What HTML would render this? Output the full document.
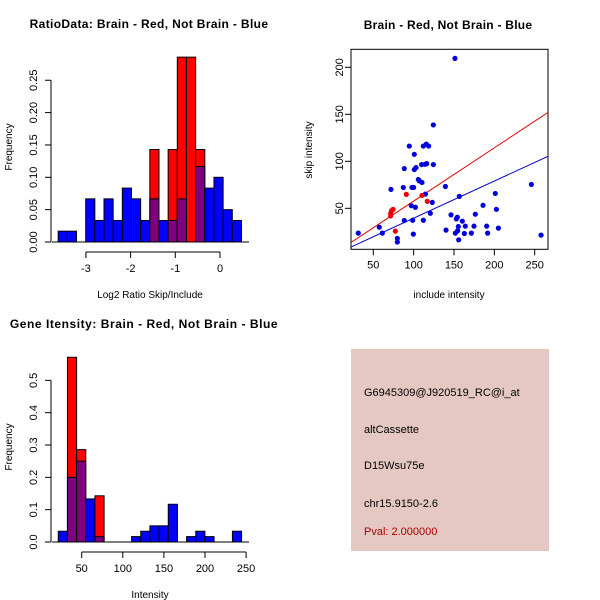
<!DOCTYPE html>
<html><head><meta charset="utf-8"><style>
body{margin:0;background:#fff}
svg{display:block;font-family:"Liberation Sans",sans-serif}
</style></head><body>
<svg id="c" width="600" height="600" viewBox="0 0 600 600"></svg>
<script>
// ---- data ----
const ratioBinStart = -3.62, ratioBinWidth = 0.205;
const ratioBlue = [0.0167,0.0167,0,0.0667,0.0333,0.0667,0.0333,0.0833,0.0667,0.0333,0.0667,0.0333,0.0333,0.0667,0,0.1167,0.0833,0.1,0.05,0.0333];
const ratioRed  = [0,0,0,0,0,0,0,0,0,0,0.1429,0,0.1429,0.2857,0.2857,0.1429,0,0,0,0];
const ratioXTicks = [-3,-2,-1,0];
const ratioYTicks = [0,0.05,0.10,0.15,0.20,0.25];
const ratioYLabels = ["0.00","0.05","0.10","0.15","0.20","0.25"];

const geneBinStart = 21.5, geneBinWidth = 11.15;
const geneBlue = [0.0333,0.2,0.25,0.1333,0.0167,0,0,0,0.0167,0.0333,0.05,0.05,0.1167,0,0.0167,0.0333,0.0167,0,0,0.0333];
const geneRed  = [0,0.5714,0.2857,0,0.1429,0,0,0,0,0,0,0,0,0,0,0,0,0,0,0];
const geneXTicks = [50,100,150,200,250];
const geneYTicks = [0,0.1,0.2,0.3,0.4,0.5];
const geneYLabels = ["0.0","0.1","0.2","0.3","0.4","0.5"];

const blueX = [31.4,57.4,61.2,71.9,79.8,79.8,87.2,88.4,88.4,94.6,97.1,97.9,100,99.6,98.8,100.8,100.8,102.9,102.1,105.8,107,110.3,109.9,112,112,114,115.7,116.1,118.6,114.5,120.7,123.1,124.4,124.4,139.3,140.1,146.3,151.2,152.9,154.1,155.4,154.5,151.7,156.6,155.8,160.3,162.8,164,171.5,174.8,176.4,186,190.5,191.7,201.2,202.5,205,245.9,257.9];
const blueY = [23.6,29.9,23.6,70.1,18,14.1,72.2,92.3,37,116.2,52.8,72.2,72.2,22.5,37.3,107.4,91.2,93.3,51.1,80.6,79.2,77.5,96.5,116.2,37.3,96.8,118.3,97.5,116.2,65.1,44.7,56.3,138.7,96.5,73.2,26.8,43,209.5,38.7,40.5,30.6,26.1,23.6,62.7,16.5,36.3,23.2,31,23.6,31,43.7,53.2,31,23.6,65.8,48.9,28.9,75.4,21.5];
const redX = [71.5,72.7,74.4,71.5,77.3,90.9,110.3,116.9];
const redY = [44.7,47.5,48.9,41.9,25.7,64.8,63.7,57.4];
const redFit = [1.0,0.5666];   // intercept, slope
const blueFit = [0.0,0.395];
const scatXTicks = [50,100,150,200,250];
const scatYTicks = [50,100,150,200];

const svg = document.getElementById('c');
const NS = 'http://www.w3.org/2000/svg';
function mk(tag, attrs, parent){const e=document.createElementNS(NS,tag);for(const k in attrs)e.setAttribute(k,attrs[k]);(parent||svg).appendChild(e);return e;}
function txt(s,x,y,opts,parent){const t=mk('text',Object.assign({x:x,y:y,'font-size':11,fill:'#000'},opts||{}),parent);t.textContent=s;return t;}

function hist(name, title, xlab, x0px, pxPerX, y0px, pxPerY, binStart, binW, blue, red, xT, yT, yL, axY, titleX, titleSpacing){
  const g = mk('g',{});
  
  
  const sx = v => x0px + v*pxPerX;
  const sy = v => y0px - v*pxPerY;
  for(let i=0;i<blue.length;i++){
    const l = sx(binStart+i*binW), r = sx(binStart+(i+1)*binW);
    const b = blue[i], rd = red[i];
    const top = Math.max(b,rd), ov = Math.min(b,rd);
    if(top<=0) continue;
    const bar = mk('rect',{x:l,y:sy(top),width:r-l,height:sy(0)-sy(top),fill: rd>b?'#ff0000':'#0000ff',stroke:'#000','stroke-width':1},g);
    
    
    if(ov>0){
      const o = mk('rect',{x:l,y:sy(ov),width:r-l,height:sy(0)-sy(ov),fill:'#7f007f',stroke:'#000','stroke-width':1},g);
      
      
    }
  }
  const ya = mk('g',{},g);
  
  
  mk('line',{x1:axY,x2:axY,y1:sy(yT[0]),y2:sy(yT[yT.length-1]),stroke:'#000'},ya);
  yT.forEach((v,i)=>{mk('line',{x1:axY-6,x2:axY,y1:sy(v),y2:sy(v),stroke:'#000'},ya);
    txt(yL[i],axY-14,sy(v),{'text-anchor':'middle',transform:`rotate(-90 ${axY-14} ${sy(v)})`},ya);});
  const xa = mk('g',{},g);
  
  
  const xb = y0px+10;
  mk('line',{x1:sx(xT[0]),x2:sx(xT[xT.length-1]),y1:xb,y2:xb,stroke:'#000'},xa);
  xT.forEach(v=>{mk('line',{x1:sx(v),x2:sx(v),y1:xb,y2:xb+6,stroke:'#000'},xa);
    txt(String(v),sx(v),xb+20,{'text-anchor':'middle'},xa);});
  mk('line',{x1:axY+1,x2:249,y1:y0px,y2:y0px,stroke:'#000'},g);
  const tt = txt(title,titleX,y0px-214,{'font-weight':'bold','font-size':12,'text-anchor':'middle','letter-spacing':titleSpacing},g);
  
  
  const xl = txt(xlab,150,y0px+56,{'text-anchor':'middle','font-size':10},g);
  
  
  const yl = txt('Frequency',12,y0px-95,{'text-anchor':'middle','font-size':10,transform:`rotate(-90 12 ${y0px-95})`},g);
  
  
}
hist('ratio-histogram','RatioData: Brain - Red, Not Brain - Blue','Log2 Ratio Skip/Include',220,44.7,242,647,ratioBinStart,ratioBinWidth,ratioBlue,ratioRed,ratioXTicks,ratioYTicks,ratioYLabels,51,149,0.35);
hist('gene-intensity-histogram','Gene Itensity: Brain - Red, Not Brain - Blue','Intensity',81.7-50*0.822,0.822,542,323.3,geneBinStart,geneBinWidth,geneBlue,geneRed,geneXTicks,geneYTicks,geneYLabels,51,144,0.55);

(function(){
  const g = mk('g',{});
  
  
  const sx = v => 373.3 + (v-50)*0.807;
  const sy = v => 255.3 - v*0.94;
  const X0=351,X1=548,Y0=49.3,Y1=249.3;
  mk('rect',{x:X0,y:Y0,width:X1-X0,height:Y1-Y0,fill:'none',stroke:'#000'},g);
  const xa = mk('g',{},g);
  
  
  scatXTicks.forEach(v=>{mk('line',{x1:sx(v),x2:sx(v),y1:Y1,y2:Y1+6,stroke:'#000'},xa);
    txt(String(v),sx(v),Y1+19,{'text-anchor':'middle'},xa);});
  const ya = mk('g',{},g);
  
  
  scatYTicks.forEach(v=>{mk('line',{x1:X0-6,x2:X0,y1:sy(v),y2:sy(v),stroke:'#000'},ya);
    txt(String(v),X0-8,sy(v),{'text-anchor':'middle',transform:`rotate(-90 ${X0-8} ${sy(v)})`},ya);});
  const defs = mk('defs',{},g);
  const cp = mk('clipPath',{id:'clp'},defs);
  mk('rect',{x:X0,y:Y0,width:X1-X0,height:Y1-Y0},cp);
  const xmin=(X0-373.3)/0.807+50, xmax=(X1-373.3)/0.807+50;
  const rl = mk('line',{x1:sx(xmin),y1:sy(redFit[0]+redFit[1]*xmin),x2:sx(xmax),y2:sy(redFit[0]+redFit[1]*xmax),stroke:'#e00000','clip-path':'url(#clp)'},g);
  
  
  const bl = mk('line',{x1:sx(xmin),y1:sy(blueFit[0]+blueFit[1]*xmin),x2:sx(xmax),y2:sy(blueFit[0]+blueFit[1]*xmax),stroke:'#0000cc','clip-path':'url(#clp)'},g);
  
  
  blueX.forEach((x,i)=>{const c=mk('circle',{cx:sx(x),cy:sy(blueY[i]),r:2.6,fill:'#0000dd'},g);
    
    });
  redX.forEach((x,i)=>{const c=mk('circle',{cx:sx(x),cy:sy(redY[i]),r:2.6,fill:'#ee0000'},g);
    
    });
  const t = txt('Brain - Red, Not Brain - Blue',448,29,{'font-weight':'bold','font-size':12,'text-anchor':'middle','letter-spacing':0.25},g);
  
  
  const xl = txt('include intensity',449,298,{'text-anchor':'middle','font-size':10},g);
  
  
  const yl = txt('skip intensity',312,150,{'text-anchor':'middle','font-size':10,transform:'rotate(-90 312 150)'},g);
  
  
})();
</script>
<svg style="position:absolute;left:0;top:0" width="600" height="600">
  <rect x="351" y="349" width="198" height="202" fill="#e6c8c2"/>
  <g font-family="Liberation Sans, sans-serif" font-size="11">
    <text x="364" y="396" fill="#000">G6945309@J920519_RC@i_at</text>
    <text x="364" y="433" fill="#000">altCassette</text>
    <text x="364" y="469" fill="#000">D15Wsu75e</text>
    <text x="364" y="507" fill="#000">chr15.9150-2.6</text>
    <text x="364" y="535" fill="#aa0000">Pval: 2.000000</text>
  </g>
</svg>
</body></html>
